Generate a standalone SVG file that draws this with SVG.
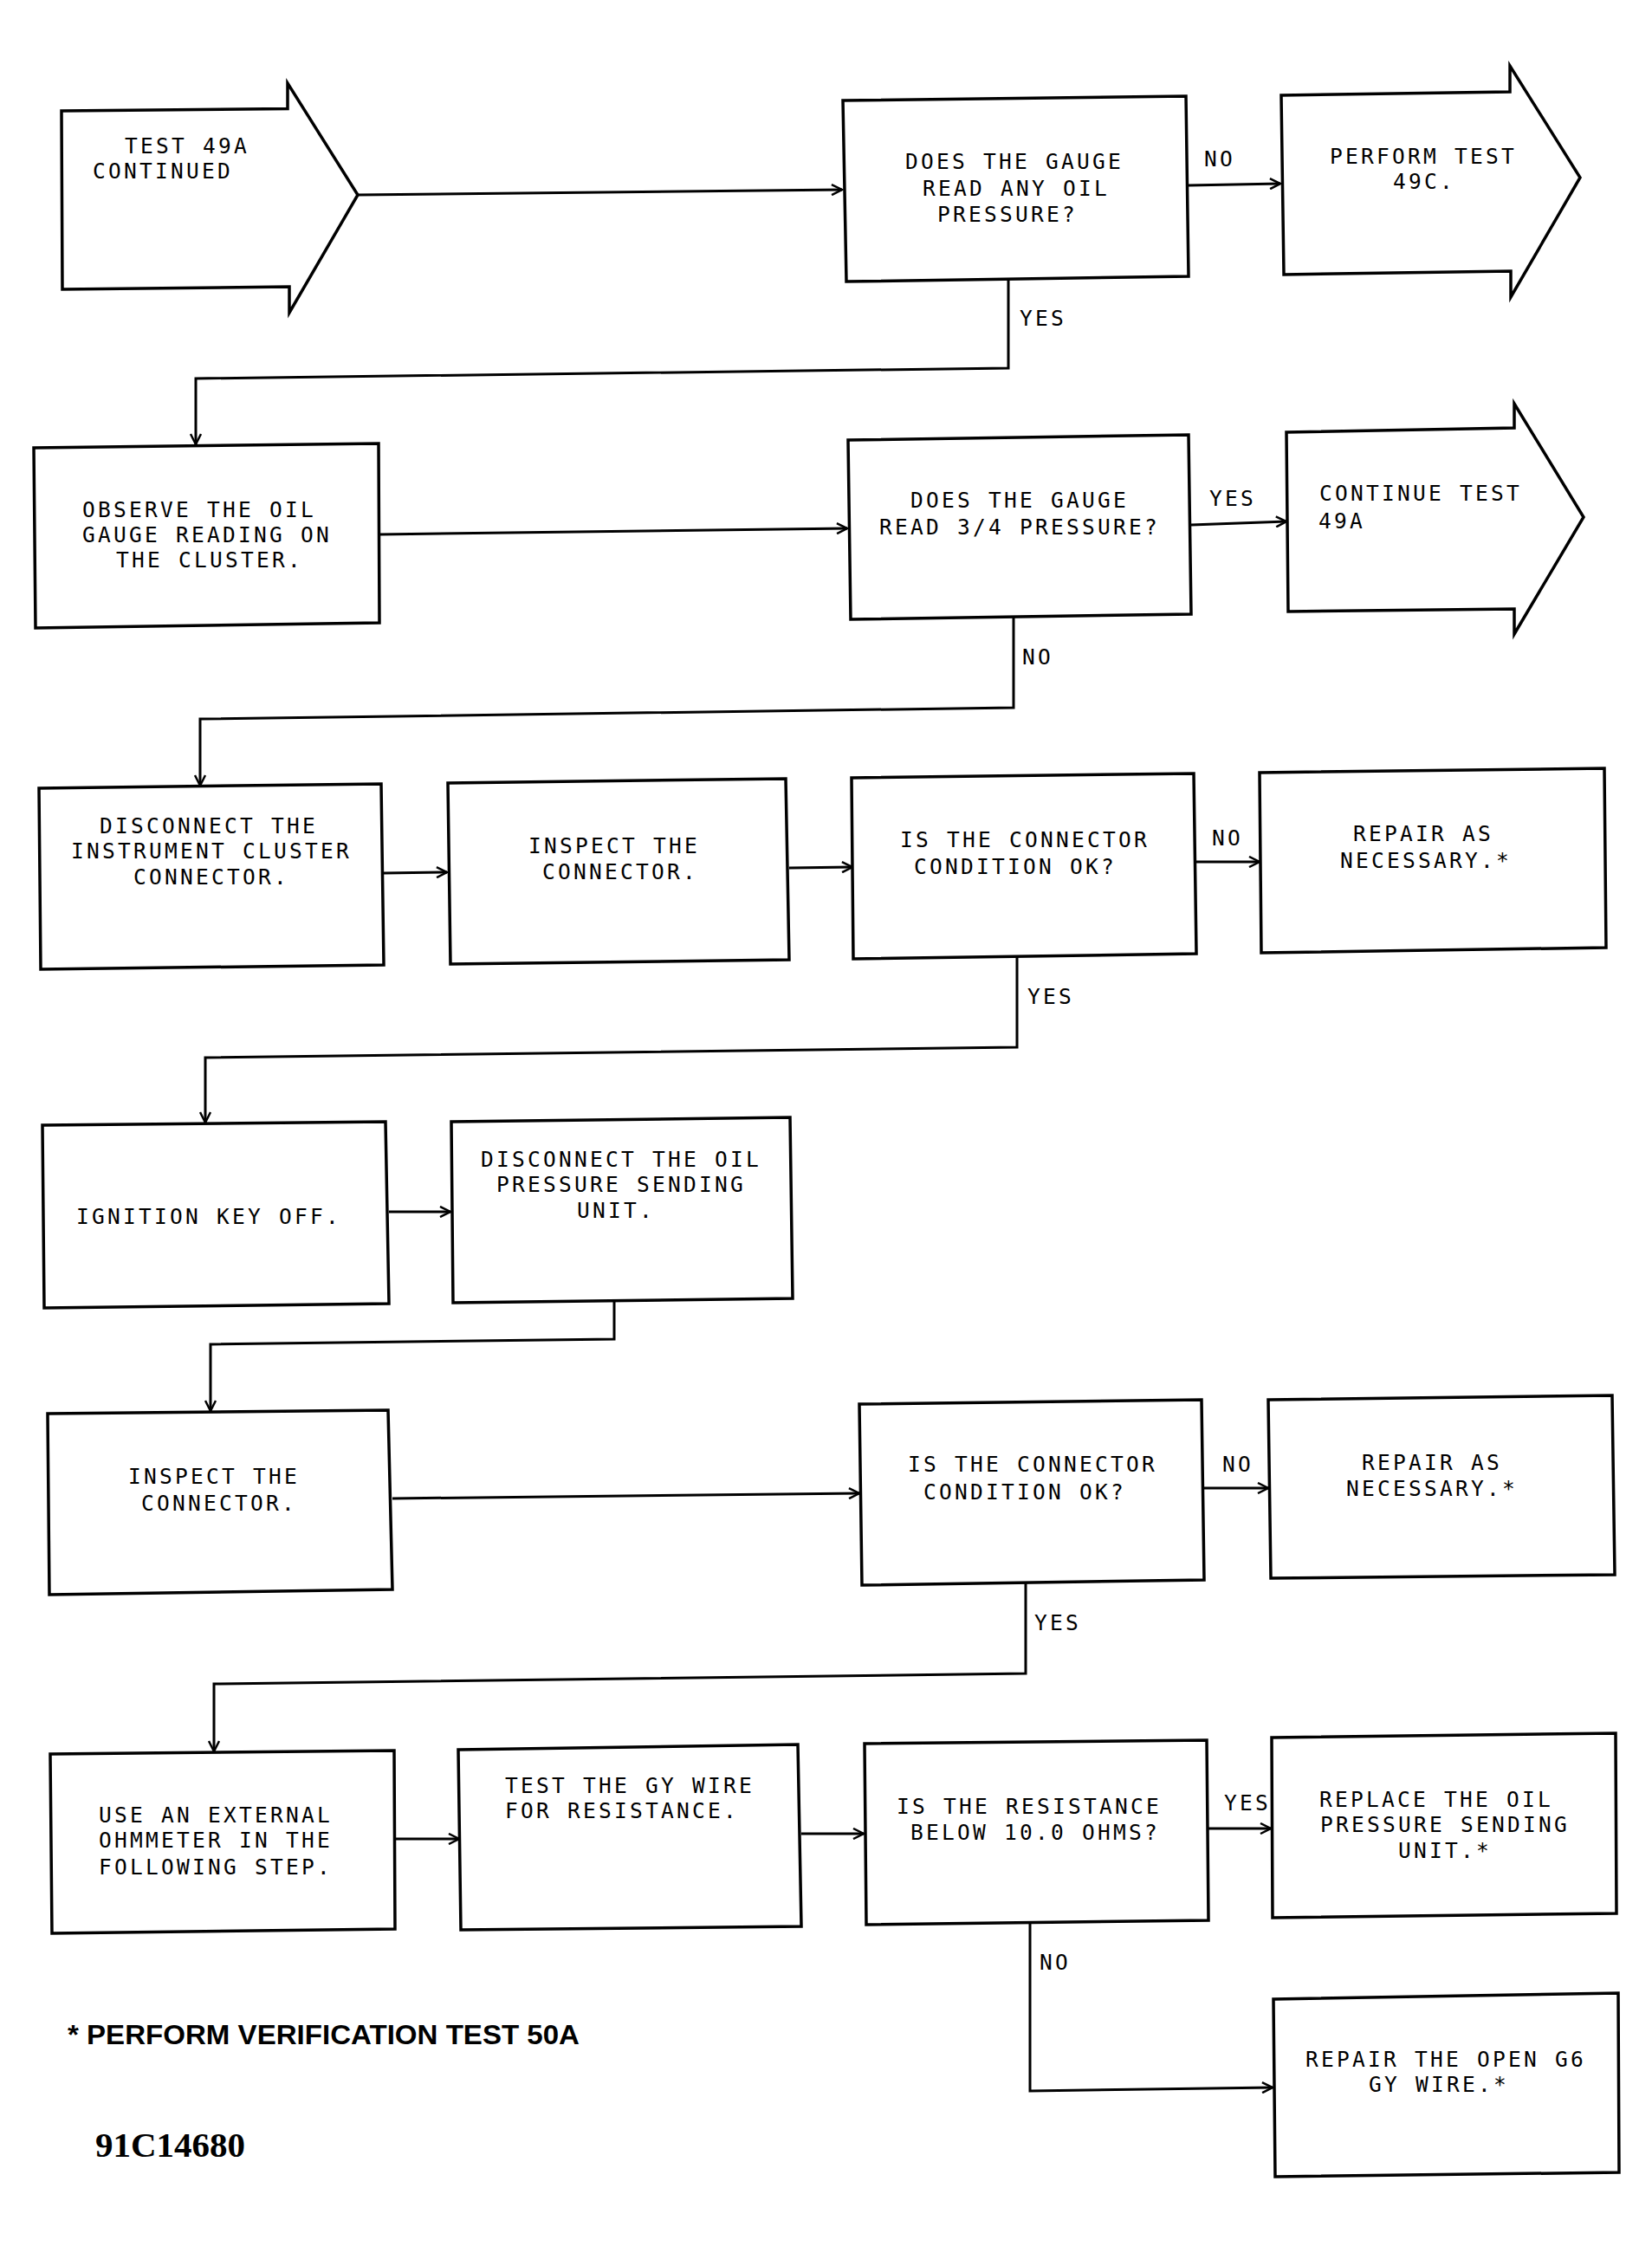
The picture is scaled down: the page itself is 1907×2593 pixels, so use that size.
<svg xmlns="http://www.w3.org/2000/svg" width="1907" height="2593" viewBox="0 0 1907 2593">
<style>
.b{fill:#fff;stroke:#000;stroke-width:3.5;stroke-linejoin:miter}
.c{fill:none;stroke:#000;stroke-width:3;marker-end:url(#ah)}
.t{font-family:"DejaVu Sans Mono","Liberation Mono",monospace;font-size:24.5px;letter-spacing:3.25px;fill:#000}
.n{font-family:"Liberation Sans",Arial,sans-serif;font-weight:bold;font-size:32px;fill:#000}
.id{font-family:"Liberation Serif","Times New Roman",serif;font-weight:bold;font-size:41px;fill:#000}
</style>
<defs>
<marker id="ah" markerUnits="userSpaceOnUse" markerWidth="16" markerHeight="14" refX="13" refY="7" orient="auto" viewBox="0 0 16 14">
<path d="M1,1 L13,7 L1,13" fill="none" stroke="#000" stroke-width="2.5"/>
</marker>
</defs>
<rect width="1907" height="2593" fill="#fff"/>

<g id="connectors">
<polyline class="c" points="413,225 972,219"/>
<polyline class="c" points="1372,214 1478,212"/>
<polyline class="c" points="1164,322 1164,425 226,437 226,513"/>
<polyline class="c" points="438,617 978,610"/>
<polyline class="c" points="1375,606 1485,602"/>
<polyline class="c" points="1170,712 1170,817 231,830 231,907"/>
<polyline class="c" points="443,1008 516,1007"/>
<polyline class="c" points="911,1002 984,1001"/>
<polyline class="c" points="1381,995 1454,995"/>
<polyline class="c" points="1174,1104 1174,1209 237,1221 237,1296"/>
<polyline class="c" points="449,1399 520,1399"/>
<polyline class="c" points="709,1502 709,1546 243,1552 243,1629"/>
<polyline class="c" points="453,1730 992,1724"/>
<polyline class="c" points="1390,1718 1464,1718"/>
<polyline class="c" points="1184,1827 1184,1932 247,1944 247,2022"/>
<polyline class="c" points="456,2123 530,2123"/>
<polyline class="c" points="925,2117 997,2117"/>
<polyline class="c" points="1395,2111 1467,2111"/>
<polyline class="c" points="1189,2219 1189,2414 1469,2410"/>
</g>

<g id="n-test49a">
<polygon class="b" points="71,128 332,125.6 332,96 413,225 334,361 334,331 72,334"/>
<text class="t" x="144" y="176.6">TEST 49A</text>
<text class="t" x="107" y="206.1">CONTINUED</text>
</g>

<g id="n-q-any-oil">
<polygon class="b" points="973,116 1369,111 1372,319 977,325"/>
<text class="t" x="1045" y="194.6">DOES THE GAUGE</text>
<text class="t" x="1065" y="225.6">READ ANY OIL</text>
<text class="t" x="1082" y="255.6">PRESSURE?</text>
</g>

<g id="n-test49c">
<polygon class="b" points="1479,110 1743,106 1743,76 1824,205 1744,343 1744,313 1482,317"/>
<text class="t" x="1535" y="189">PERFORM TEST</text>
<text class="t" x="1608" y="218">49C.</text>
</g>

<g id="n-observe">
<polygon class="b" points="39,517 437,512 438,719 41,725"/>
<text class="t" x="95" y="596.6">OBSERVE THE OIL</text>
<text class="t" x="95" y="625.6">GAUGE READING ON</text>
<text class="t" x="134" y="654.6">THE CLUSTER.</text>
</g>

<g id="n-q-3-4">
<polygon class="b" points="979,508 1372,502 1375,709 982,715"/>
<text class="t" x="1051" y="585.6">DOES THE GAUGE</text>
<text class="t" x="1015" y="616.6">READ 3/4 PRESSURE?</text>
</g>

<g id="n-continue49a">
<polygon class="b" points="1485,499 1748,494 1748,466 1828,597 1748,732 1748,703 1487,706"/>
<text class="t" x="1523" y="577.6">CONTINUE TEST</text>
<text class="t" x="1522" y="609.6">49A</text>
</g>

<g id="n-disconnect-cluster">
<polygon class="b" points="45,910 440,905 443,1114 47,1119"/>
<text class="t" x="115" y="961.6">DISCONNECT THE</text>
<text class="t" x="82" y="990.6">INSTRUMENT CLUSTER</text>
<text class="t" x="154" y="1020.6">CONNECTOR.</text>
</g>

<g id="n-inspect-1">
<polygon class="b" points="517,904 907,899 911,1108 520,1113"/>
<text class="t" x="610" y="984.6">INSPECT THE</text>
<text class="t" x="626" y="1014.6">CONNECTOR.</text>
</g>

<g id="n-q-conn-1">
<polygon class="b" points="983,898 1378,893 1381,1101 985,1107"/>
<text class="t" x="1039" y="977.6">IS THE CONNECTOR</text>
<text class="t" x="1055" y="1008.6">CONDITION OK?</text>
</g>

<g id="n-repair-1">
<polygon class="b" points="1454,892 1852,887 1854,1094 1456,1100"/>
<text class="t" x="1562" y="970.6">REPAIR AS</text>
<text class="t" x="1547" y="1001.6">NECESSARY.*</text>
</g>

<g id="n-ignition">
<polygon class="b" points="49,1299 445,1295 449,1505 51,1510"/>
<text class="t" x="88" y="1412.6">IGNITION KEY OFF.</text>
</g>

<g id="n-disconnect-sender">
<polygon class="b" points="521,1295 912,1290 915,1499 523,1504"/>
<text class="t" x="555" y="1346.6">DISCONNECT THE OIL</text>
<text class="t" x="573" y="1375.6">PRESSURE SENDING</text>
<text class="t" x="666" y="1405.6">UNIT.</text>
</g>

<g id="n-inspect-2">
<polygon class="b" points="55,1632 448,1628 453,1835 57,1841"/>
<text class="t" x="148" y="1712.6">INSPECT THE</text>
<text class="t" x="163" y="1743.6">CONNECTOR.</text>
</g>

<g id="n-q-conn-2">
<polygon class="b" points="992,1621 1387,1616 1390,1824 995,1830"/>
<text class="t" x="1048" y="1698.6">IS THE CONNECTOR</text>
<text class="t" x="1066" y="1730.6">CONDITION OK?</text>
</g>

<g id="n-repair-2">
<polygon class="b" points="1464,1616 1861,1611 1864,1818 1467,1822"/>
<text class="t" x="1572" y="1696.6">REPAIR AS</text>
<text class="t" x="1554" y="1726.6">NECESSARY.*</text>
</g>

<g id="n-ohmmeter">
<polygon class="b" points="58,2025 455,2021 456,2227 60,2232"/>
<text class="t" x="114" y="2103.6">USE AN EXTERNAL</text>
<text class="t" x="114" y="2132.6">OHMMETER IN THE</text>
<text class="t" x="114" y="2163.6">FOLLOWING STEP.</text>
</g>

<g id="n-test-gy">
<polygon class="b" points="529,2020 921,2014 925,2224 532,2228"/>
<text class="t" x="583" y="2069.6">TEST THE GY WIRE</text>
<text class="t" x="583" y="2098.6">FOR RESISTANCE.</text>
</g>

<g id="n-q-resistance">
<polygon class="b" points="998,2013 1393,2009 1395,2217 1000,2222"/>
<text class="t" x="1035" y="2093.6">IS THE RESISTANCE</text>
<text class="t" x="1051" y="2123.6">BELOW 10.0 OHMS?</text>
</g>

<g id="n-replace">
<polygon class="b" points="1468,2006 1865,2001 1866,2209 1469,2214"/>
<text class="t" x="1523" y="2085.9">REPLACE THE OIL</text>
<text class="t" x="1524" y="2114.8">PRESSURE SENDING</text>
<text class="t" x="1614" y="2144.6">UNIT.*</text>
</g>

<g id="n-repair-open">
<polygon class="b" points="1470,2308 1868,2301 1869,2508 1472,2513"/>
<text class="t" x="1507" y="2385.6">REPAIR THE OPEN G6</text>
<text class="t" x="1580" y="2414.6">GY WIRE.*</text>
</g>

<g id="labels">
<text class="t" x="1390" y="192">NO</text>
<text class="t" x="1177" y="375.6">YES</text>
<text class="t" x="1396" y="583.6">YES</text>
<text class="t" x="1180" y="766.6">NO</text>
<text class="t" x="1399" y="975.6">NO</text>
<text class="t" x="1186" y="1158.6">YES</text>
<text class="t" x="1411" y="1698.6">NO</text>
<text class="t" x="1194" y="1881.6">YES</text>
<text class="t" x="1413" y="2089.6">YES</text>
<text class="t" x="1200" y="2273.6">NO</text>
</g>

<g id="notes">
<text class="n" x="78" y="2360" textLength="591" lengthAdjust="spacingAndGlyphs">* PERFORM VERIFICATION TEST 50A</text>
<text class="id" x="110" y="2490">91C14680</text>
</g>
</svg>
